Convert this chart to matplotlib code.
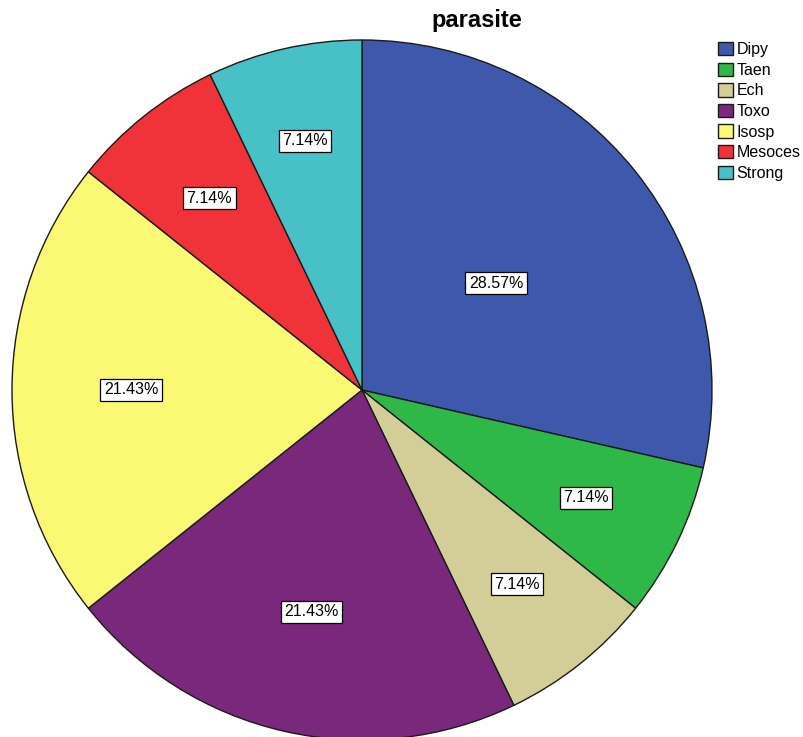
import matplotlib
matplotlib.use('Agg')
import matplotlib.pyplot as plt
import numpy as np

labels = ['Dipy', 'Taen', 'Ech', 'Toxo', 'Isosp', 'Mesoces', 'Strong']
counts = [4, 1, 1, 3, 3, 1, 1]
colors = ['#3E58AC', '#2EB848', '#D3CE97', '#7A287B', '#FBF873', '#EF3338', '#48C1C6']
# radial position of each percent label (fraction of radius)
label_r = [0.49, 0.71, 0.71, 0.65, 0.66, 0.70, 0.73]

plt.rcParams['font.family'] = ['Liberation Sans', 'DejaVu Sans']

W, H = 804, 737
fig = plt.figure(figsize=(W / 100, H / 100), dpi=100)
cx, cy, R = 362, 390, 350
ax = fig.add_axes([(cx - R) / W, (H - cy - R) / H, 2 * R / W, 2 * R / H])

wedges, texts, autotexts = ax.pie(
    counts, colors=colors, startangle=90, counterclock=False,
    autopct='%.2f%%', radius=1.0,
    wedgeprops=dict(edgecolor='#1a1a1a', linewidth=1.0),
    textprops=dict(fontsize=11.5, color='black'))
for w, t, r in zip(wedges, autotexts, label_r):
    ang = np.deg2rad((w.theta1 + w.theta2) / 2)
    t.set_position((r * np.cos(ang), r * np.sin(ang)))
    t.set_bbox(dict(facecolor='white', edgecolor='black', linewidth=0.9,
                    boxstyle='square,pad=0.22'))
ax.set_xlim(-1, 1)
ax.set_ylim(-1, 1)
ax.set_aspect('equal')
ax.axis('off')

fig.text(477 / W, 1 - 20 / H, 'parasite', ha='center', va='center', fontsize=17, fontweight='bold')

leg = fig.legend(wedges, labels, loc='upper left', bbox_to_anchor=(715 / W, 1 - 39 / H),
                 frameon=False, fontsize=11.5, handlelength=0.9, handleheight=0.9,
                 handletextpad=0.25, labelspacing=0.34, borderaxespad=0, borderpad=0.2)

fig.savefig('out.png', dpi=100)
